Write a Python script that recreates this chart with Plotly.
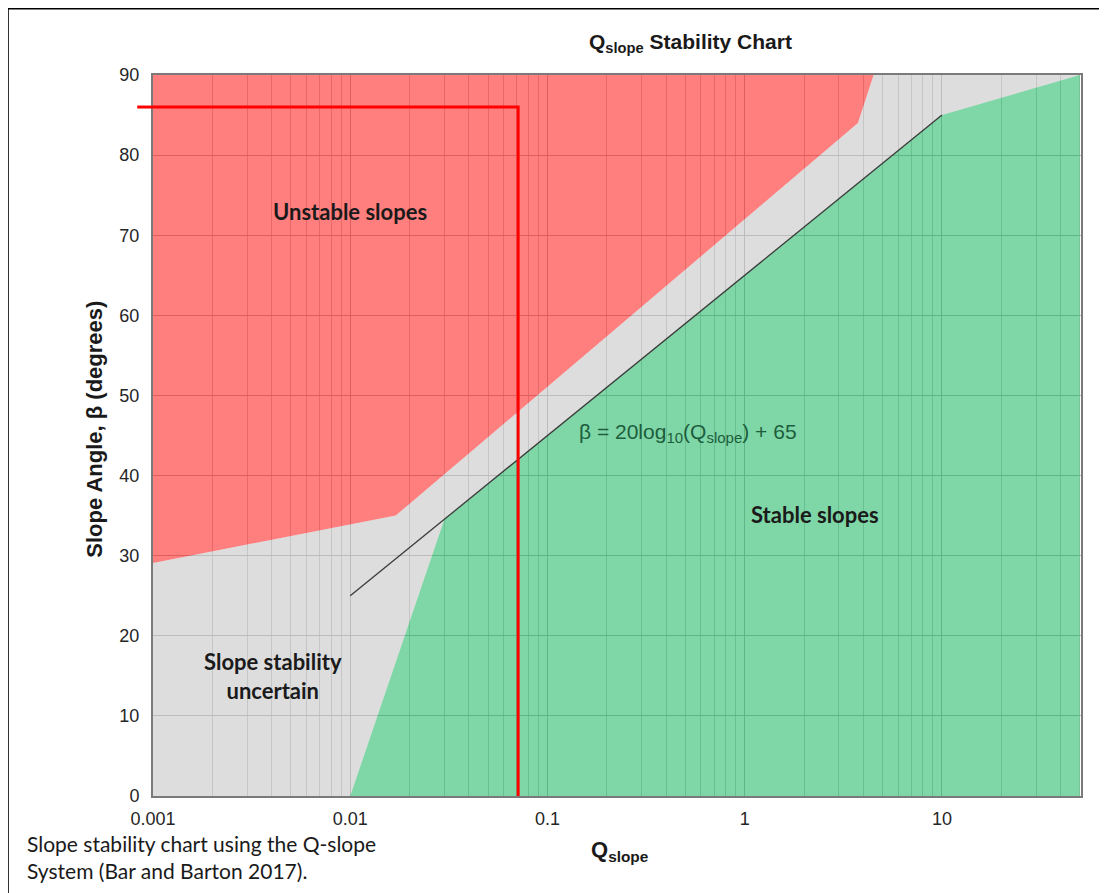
import plotly.graph_objects as go

# ---- data ----
unstable_q = [0.001, 0.017, 3.75, 4.5, 0.001]
unstable_beta = [29.1, 35.0, 84.0, 90.0, 90.0]

stable_q = [0.01, 0.03, 10.0, 50.0, 50.0]
stable_beta = [0.0, 34.5, 85.0, 90.0, 0.0]

uncertain_q = [0.001, 0.01, 0.03, 10.0, 50.0, 4.5, 3.75, 0.017, 0.001]
uncertain_beta = [0.0, 0.0, 34.5, 85.0, 90.0, 90.0, 84.0, 35.0, 29.1]

line_q = [0.01, 10.0]
line_beta = [25.0, 85.0]

marker_q = [0.001, 0.071, 0.071]
marker_beta = [86.0, 86.0, 0.0]

x_tickvals = [0.001, 0.01, 0.1, 1, 10]
x_ticktext = ["0.001", "0.01", "0.1", "1", "10"]
y_tickvals = [0, 10, 20, 30, 40, 50, 60, 70, 80, 90]

fig = go.Figure()

fig.add_trace(go.Scatter(x=uncertain_q, y=uncertain_beta, fill="toself", mode="lines",
                         line=dict(width=0), fillcolor="rgba(187,187,187,0.5)",
                         hoverinfo="skip", showlegend=False))
fig.add_trace(go.Scatter(x=unstable_q, y=unstable_beta, fill="toself", mode="lines",
                         line=dict(width=0), fillcolor="rgba(255,0,0,0.5)",
                         hoverinfo="skip", showlegend=False))
fig.add_trace(go.Scatter(x=stable_q, y=stable_beta, fill="toself", mode="lines",
                         line=dict(width=0), fillcolor="rgba(0,173,77,0.5)",
                         hoverinfo="skip", showlegend=False))
fig.add_trace(go.Scatter(x=line_q, y=line_beta, mode="lines",
                         line=dict(color="#3a3a3a", width=1.3), showlegend=False))
fig.add_trace(go.Scatter(x=marker_q, y=marker_beta, mode="lines",
                         line=dict(color="#ff0000", width=3), showlegend=False))

# short red stub to the left of the axis
fig.add_shape(type="line", xref="paper", yref="y", x0=-0.017, x1=0.0,
              y0=marker_beta[0], y1=marker_beta[0], line=dict(color="#ff0000", width=3))

# black frame (top and left edges of the cropped picture)
fig.add_shape(type="line", xref="paper", yref="paper", x0=-0.157, x1=1.03, y0=1.093, y1=1.093,
              line=dict(color="black", width=3))
fig.add_shape(type="line", xref="paper", yref="paper", x0=-0.157, x1=-0.157, y0=1.093, y1=-0.14,
              line=dict(color="black", width=3))

tick_font = dict(family="Liberation Sans, Arial", size=18, color="#262626")
fig.update_xaxes(type="log", range=[-3, 1.705], tickmode="array", tickvals=x_tickvals,
                 ticktext=x_ticktext, showgrid=True, gridcolor="#bdbdbd", gridwidth=1,
                 minor=dict(showgrid=True, dtick="D1", gridcolor="#d0d0d0", gridwidth=1),
                 showline=True, linecolor="#7a7a7a", linewidth=2, mirror=True,
                 ticks="", zeroline=False, ticklabelstandoff=5, tickfont=tick_font)
fig.update_yaxes(range=[0, 90], tickmode="array", tickvals=y_tickvals,
                 showgrid=True, gridcolor="#bdbdbd", gridwidth=1,
                 showline=True, linecolor="#7a7a7a", linewidth=2, mirror=True,
                 ticks="", zeroline=False, ticklabelstandoff=8, tickfont=tick_font)

ann_font = dict(family="Lato, Noto Sans", size=22, color="#1a1a1a")
fig.add_annotation(x=-2.0, y=72.9, xref="x", yref="y", text="<b>Unstable slopes</b>",
                   showarrow=False, font=ann_font, xanchor="center", yanchor="middle")
fig.add_annotation(x=-2.39, y=15.0, xref="x", yref="y", text="<b>Slope stability<br>uncertain</b>",
                   showarrow=False, font=ann_font, xanchor="center", yanchor="middle")
fig.add_annotation(x=0.356, y=35.1, xref="x", yref="y", text="<b>Stable slopes</b>",
                   showarrow=False, font=ann_font, xanchor="center", yanchor="middle")
fig.add_annotation(x=-0.85, y=45.3, xref="x", yref="y", xanchor="left", yanchor="middle",
                   text="β = 20log<sub><span style='font-size:15px'>10</span></sub>"
                        "(Q<sub><span style='font-size:15px'>slope</span></sub>) + 65",
                   showarrow=False,
                   font=dict(family="Liberation Sans, Arial", size=21, color="#1d5e3e"))

fig.add_annotation(x=0.579, y=1.044, xref="paper", yref="paper", xanchor="center",
                   yanchor="middle",
                   text="<b>Q<sub>slope</sub> Stability Chart</b>", showarrow=False,
                   font=dict(family="Liberation Sans, Arial", size=21, color="#1a1a1a"))
fig.add_annotation(x=0.503, y=-0.076, xref="paper", yref="paper", xanchor="center",
                   yanchor="middle",
                   text="<b>Q<sub>slope</sub></b>", showarrow=False,
                   font=dict(family="Liberation Sans, Arial", size=22, color="#1a1a1a"))
fig.add_annotation(x=-0.0625, y=0.508, xref="paper", yref="paper", textangle=-90,
                   xanchor="center", yanchor="middle",
                   text="<b>Slope Angle, β (degrees)</b>", showarrow=False,
                   font=dict(family="Liberation Sans, Arial", size=22, color="#1a1a1a"))
fig.add_annotation(x=-0.138, y=-0.085, xref="paper", yref="paper", xanchor="left",
                   yanchor="middle", align="left",
                   text="Slope stability chart using the Q-slope<br>System (Bar and Barton 2017).",
                   showarrow=False,
                   font=dict(family="Lato, Noto Sans", size=21, color="#1a1a1a"))

# the page body adds an 8px margin, so the figure is 8px smaller and shifted accordingly
fig.update_layout(width=1099, height=885, plot_bgcolor="white", paper_bgcolor="white",
                  margin=dict(l=145, r=26, t=67, b=97), showlegend=False)

fig.write_html("out.html")
